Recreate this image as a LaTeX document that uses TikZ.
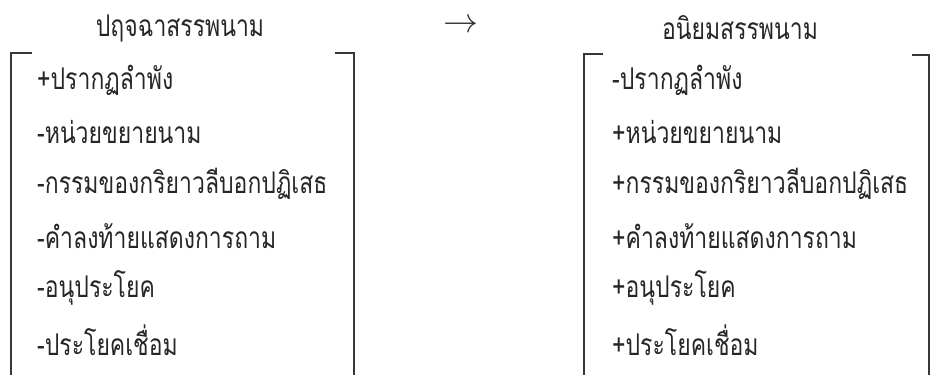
\documentclass[tikz,border=0pt]{standalone}
\usepackage{fontspec}
\usepackage{graphicx}
\newfontfamily\thaifont[Script=Thai]{Loma}
\newcommand{\tall}[1]{\scalebox{1}[1.3]{#1}}
\begin{document}
\begin{tikzpicture}[x=1pt,y=-1pt,
  item/.style={anchor=west,inner sep=0pt,font=\thaifont\fontsize{23}{26}\selectfont,text=black!85},
  title/.style={inner sep=0pt,font=\thaifont\fontsize{23}{26}\selectfont,text=black!85},
  brk/.style={line width=1.6pt,draw=black!78}]
\useasboundingbox (0,0) rectangle (931,375);
\node[title] (t1) at (180,28) {\tall{ปฤจฉาสรรพนาม}};
\node[title] (t2) at (740,28) {\tall{อนิยมสรรพนาม}};
\node[inner sep=0pt,text=black!80] (arr) at (461,26) {\scalebox{3.5}{$\rightarrow$}};
\foreach \t [count=\i from 0] in {+ปรากฏลำพัง,-หน่วยขยายนาม,-กรรมของกริยาวลีบอกปฏิเสธ,-คำลงท้ายแสดงการถาม,-อนุประโยค,-ประโยคเชื่อม}
  \node[item] (l\i) at (37,{80+52*\i}) {\tall{\t}};
\foreach \t [count=\i from 0] in {-ปรากฏลำพัง,+หน่วยขยายนาม,+กรรมของกริยาวลีบอกปฏิเสธ,+คำลงท้ายแสดงการถาม,+อนุประโยค,+ประโยคเชื่อม}
  \node[item] (r\i) at (612,{80+52*\i}) {\tall{\t}};
\draw[brk] (32,53) -- (11,53) -- (11,375);
\draw[brk] (335,53) -- (354,53) -- (354,375);
\draw[brk] (603,54) -- (584,54) -- (584,375);
\draw[brk] (912,55) -- (929,55) -- (929,375);
\end{tikzpicture}
\end{document}
